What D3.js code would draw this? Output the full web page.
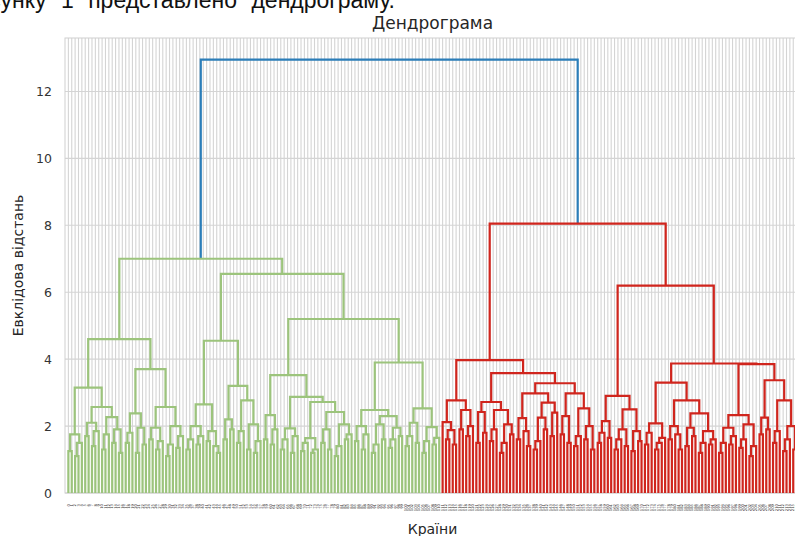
<!DOCTYPE html>
<html>
<head>
<meta charset="utf-8">
<script src="https://cdn.jsdelivr.net/npm/d3@7"></script>
<style>
  body { margin: 0; background: #fff; }
  svg { font-family: "DejaVu Sans", sans-serif; }
</style>
</head>
<body>
<svg id="chart" width="795" height="536"></svg>
<script>
// Дерево кластерів у форматі "(лівий,правий)висота", x = країна (лист)
const greenLeft = "((((x,x)1.25,((x,x)1.1,x)1.5)1.75,(((x,x)1.7,((x,x)1.4,x)1.85)2.1,(((x,x)1.3,x)1.75,((x,x)1.5,(x,x)1.2)1.9)2.27)2.57)3.15," +
  "((((x,x)1.5,x)1.8,((x,x)1.2,(x,x)1.45)1.95)2.38,(((x,x)1.6,((x,x)1.3,x)1.55)1.95,(((x,x)1.1,x)1.45,((x,x)1.35,x)1.7)2.0)2.57)3.7)4.6";

const greenRight = "((((((x,x)1.3,x)1.6,((x,x)1.45,x)1.7)2.0,((x,x)1.55,(x,(x,x)1.2)1.4)1.85)2.65,(((x,x)1.6,(x,x)1.9)2.2,(((x,x)1.5,x)1.85,((x,x)1.3,((x,x)1.2,x)1.55)2.05)2.77)3.2)4.55," +
  "((((x,x)1.6,((x,x)1.45,x)1.9)2.33,((((x,x)1.3,x)1.6,((x,x)1.2,x)1.7)1.93,((((x,x)1.25,x)1.5,((x,x)1.2,x)1.3)1.64,(((x,x)1.5,(x,x)1.3)1.9,(((x,x)1.1,x)1.4,((x,x)1.6,x)1.75)2.05)2.42)2.72)2.87)3.52," +
  "((((x,x)1.55,((x,x)1.3,x)1.75)2.0,((((x,x)1.2,x)1.45,(x,x)1.6)2.05,(((x,x)1.35,x)1.6,(x,x)1.7)1.95)2.3)2.48,((((x,x)1.4,x)1.7,(x,x)1.5)2.1,(((x,x)1.2,x)1.55,((x,x)1.45,x)1.65)1.97)2.53)3.9)5.2)6.55";

const redLeft = "(((x,((x,x)1.6,(x,x)1.45)1.88)2.12,((x,x)1.9,((x,x)1.7,x)2.0)2.48)2.77," +
  "((((x,x)1.5,(x,x)1.8)2.42,(((x,x)1.55,x)1.9,(((x,x)1.2,x)1.5,(x,x)1.75)2.05)2.48)2.72," +
  "((((x,x)1.6,(x,(x,x)1.4)1.85)2.24,((((x,x)1.3,x)1.55,(x,x)1.9)2.25,((x,x)1.7,x)2.4)2.7)2.98,(((x,x)1.75,(x,x)1.5)2.3,(((x,x)1.4,x)1.7,((x,x)1.6,(x,x)1.3)2.0)2.53)2.98)3.28)3.58)3.97";

const redRight = "(((((x,x)1.5,x)1.8,(x,x)1.65)2.15,((((x,x)1.3,x)1.6,(x,x)1.4)1.9,((x,x)1.25,(x,x)1.55)1.85)2.5)2.9," +
  "(((((x,x)1.45,x)1.8,(((x,x)1.3,x)1.5,x)1.65)2.08,(((x,x)1.6,(x,(x,x)1.3)1.75)2.0,(((x,x)1.4,(x,x)1.7)1.95,(((x,x)1.2,x)1.5,((x,x)1.45,x)1.6)1.85)2.38)2.77)3.3," +
  "(((((x,x)1.2,x)1.5,((x,x)1.45,x)1.7)1.95,(((x,x)1.35,x)1.6,((x,x)1.1,x)1.4)2.05)2.33,(((x,x)1.75,(x,x)1.9)2.25,(((x,x)1.5,x)1.85,(((x,x)1.25,x)1.6,(x,x)1.3)2.0)2.77)3.37)3.85)3.87)6.2";

const greenHeight = 7.0;
const redHeight = 8.05;
const rootHeight = 12.95;

const yTicks = [0, 2, 4, 6, 8, 10, 12];
const clusterColors = ["#9cc47c", "#d0251d"];
const aboveColor = "#2b7db8";

const caption = "На рисунку 1 представлено дендрограму.";

// розмітка
const margin = {left: 65, right: 800, top: 38, bottom: 493};

const svg = d3.select("#chart");

function parseTree(str) {
  const s = str.replace(/\s+/g, "");
  let i = 0;
  function node() {
    if (s[i] === "(") {
      i++;
      const a = node();
      i++; // ,
      const b = node();
      i++; // )
      const m = s.slice(i).match(/^[0-9.]+/);
      i += m[0].length;
      return {h: +m[0], children: [a, b]};
    }
    i++; // x
    return {h: 0};
  }
  return node();
}

const treeData = {
  h: rootHeight,
  children: [
    {h: greenHeight, children: [parseTree(greenLeft), parseTree(greenRight)]},
    {h: redHeight, children: [parseTree(redLeft), parseTree(redRight)]}
  ]
};

const root = d3.hierarchy(treeData);
root.each(d => {
  if (d.depth === 0) d.group = -1;
  else if (d.depth === 1) d.group = d.parent.children.indexOf(d);
  else d.group = d.parent.group;
});

const n = root.leaves().length;
d3.cluster().size([n - 1, 1]).separation(() => 1)(root);

const x = d3.scaleLinear().domain([0, n]).range([margin.left, margin.right]);
const y = d3.scaleLinear().domain([0, rootHeight * 1.05]).range([margin.bottom, margin.top]);
const px = d => x(d.x + 0.5);

// сітка
const grid = svg.append("g");
grid.selectAll("line.vx")
  .data(root.leaves())
  .join("line")
  .attr("class", "vx")
  .attr("x1", px).attr("x2", px)
  .attr("y1", margin.top).attr("y2", margin.bottom)
  .attr("stroke", "#d4d4d4")
  .attr("stroke-width", 1.1);

grid.selectAll("line.hy")
  .data(yTicks)
  .join("line")
  .attr("class", "hy")
  .attr("x1", margin.left).attr("x2", margin.right)
  .attr("y1", d => y(d)).attr("y2", d => y(d))
  .attr("stroke", "#d4d4d4")
  .attr("stroke-width", 1.1);

svg.append("rect")
  .attr("x", margin.left).attr("y", margin.top)
  .attr("width", margin.right - margin.left)
  .attr("height", margin.bottom - margin.top)
  .attr("fill", "none")
  .attr("stroke", "#cfcfcf");

// зв'язки
svg.append("g")
  .selectAll("path")
  .data(root.descendants().filter(d => d.children))
  .join("path")
  .attr("d", d => {
    const a = d.children[0], b = d.children[1];
    return "M" + px(a) + "," + y(a.data.h) + "V" + y(d.data.h) + "H" + px(b) + "V" + y(b.data.h);
  })
  .attr("fill", "none")
  .attr("stroke", d => d.group < 0 ? aboveColor : clusterColors[d.group])
  .attr("stroke-width", 2.2);

// вісь Y
const yAxis = svg.append("g")
  .attr("transform", "translate(" + margin.left + ",0)")
  .call(d3.axisLeft(y).tickValues(yTicks).tickSize(0).tickPadding(13));
yAxis.select(".domain").remove();
yAxis.selectAll("text")
  .attr("font-size", "12.5px")
  .attr("fill", "#333")
  .attr("font-family", "DejaVu Sans, sans-serif");

// підписи листків
svg.append("g")
  .selectAll("text")
  .data(root.leaves())
  .join("text")
  .attr("transform", d => "translate(" + (px(d) + 1.2) + ",504) rotate(-90)")
  .attr("text-anchor", "end")
  .attr("font-size", "3.8px")
  .attr("fill", "#333")
  .text((d, i) => i);

svg.append("text")
  .attr("x", (margin.left + margin.right) / 2)
  .attr("y", 29)
  .attr("text-anchor", "middle")
  .attr("font-size", "17px")
  .attr("fill", "#262626")
  .text("Дендрограма");

svg.append("text")
  .attr("x", (margin.left + margin.right) / 2)
  .attr("y", 534)
  .attr("text-anchor", "middle")
  .attr("font-size", "14px")
  .attr("fill", "#262626")
  .text("Країни");

svg.append("text")
  .attr("transform", "translate(23," + ((margin.top + margin.bottom) / 2) + ") rotate(-90)")
  .attr("text-anchor", "middle")
  .attr("font-size", "14px")
  .attr("fill", "#262626")
  .text("Евклідова відстань");

svg.append("text")
  .attr("x", 395)
  .attr("y", 8)
  .attr("text-anchor", "end")
  .attr("font-family", "Liberation Sans, Arial, sans-serif")
  .attr("font-size", "23px")
  .attr("word-spacing", "8px")
  .attr("fill", "#111")
  .text(caption);
</script>
</body>
</html>
